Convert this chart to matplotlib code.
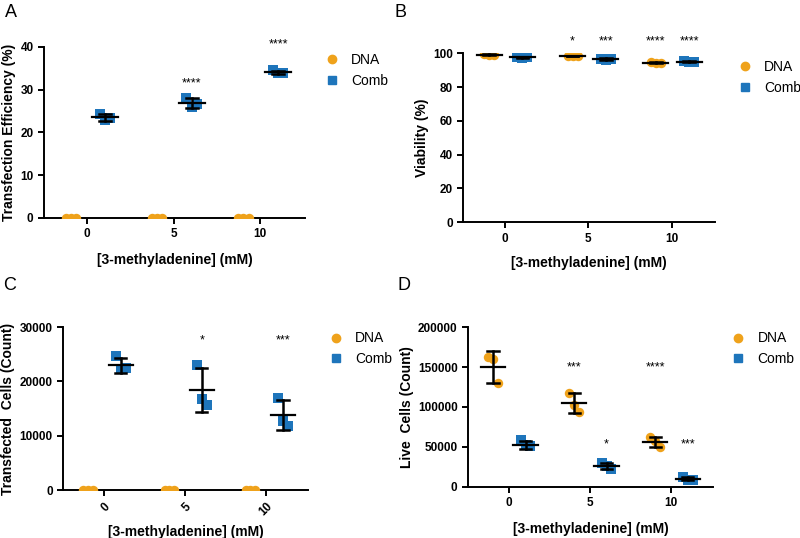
import numpy as np
import matplotlib
matplotlib.use("Agg")
import matplotlib.pyplot as plt
from matplotlib.lines import Line2D

plt.rcParams['font.family'] = ['Liberation Sans', 'DejaVu Sans']

concs = [0, 5, 10]
series = ["DNA", "Comb"]

# Panel A: Transfection efficiency (%)
A_dna = [[0, 0, 0], [0, 0, 0], [0, 0, 0]]
A_comb = [[24.2, 23.0, 23.4], [28.0, 26.0, 26.6], [34.5, 33.8, 33.9]]
A_dna_mean = [0, 0, 0]; A_dna_sd = [0, 0, 0]
A_comb_mean = [23.5, 26.8, 34.0]; A_comb_sd = [0.8, 1.2, 0.35]
A_stars = {"DNA": ["", "", ""], "Comb": ["", "****", "****"]}
A_star_y = [None, 31.5, 40.5]

# Panel B: Viability (%)
B_dna = [[99.3, 99.1, 99.2], [98.4, 98.2, 98.3], [94.8, 94.2, 94.4]]
B_comb = [[97.8, 97.3, 97.5], [96.8, 96.2, 96.5], [95.4, 94.6, 95.0]]
B_dna_mean = [99.2, 98.3, 94.5]; B_dna_sd = [0.1, 0.15, 0.3]
B_comb_mean = [97.5, 96.5, 95.0]; B_comb_sd = [0.3, 0.4, 0.4]
B_stars = {"DNA": ["", "*", "****"], "Comb": ["", "***", "****"]}
B_star_y = 107

# Panel C: Transfected cells (count)
C_dna = [[0, 0, 0], [0, 0, 0], [0, 0, 0]]
C_comb = [[24700, 22300, 22500], [23000, 16800, 15700], [17000, 12800, 11800]]
C_dna_mean = [0, 0, 0]; C_dna_sd = [0, 0, 0]
C_comb_mean = [23000, 18400, 13800]; C_comb_sd = [1400, 4000, 2750]
C_stars = {"DNA": ["", "", ""], "Comb": ["", "*", "***"]}
C_star_y = 27500

# Panel D: Live cells (count)
D_dna = [[162000, 160000, 130000], [118000, 102000, 94000], [62000, 57000, 50000]]
D_comb = [[59000, 52000, 51000], [30000, 26000, 22000], [12000, 9000, 8500]]
D_dna_mean = [150000, 105000, 56000]; D_dna_sd = [19500, 12500, 6500]
D_comb_mean = [53000, 26000, 10000]; D_comb_sd = [5000, 4000, 2000]
D_stars_dna = ["", "***", "****"]
D_stars_comb = ["", "*", "***"]

ORANGE = "#EFA21B"
BLUE = "#1E75BB"

fig = plt.figure(figsize=(8, 5.38), dpi=100)

def style_axis(ax, ylim, yticks, ylabel, legend_anchor, rotate=False, xlabelpad=8):
    ax.set_xlim(-2.5, 12.6)
    ax.set_ylim(*ylim)
    ax.set_yticks(yticks)
    ax.set_xticks(concs)
    if rotate:
        ax.set_xticklabels([str(c) for c in concs], fontweight='bold', fontsize=8.5,
                           rotation=45, ha='right', rotation_mode='anchor')
    else:
        ax.set_xticklabels([str(c) for c in concs], fontweight='bold', fontsize=8.5)
    for lab in ax.get_yticklabels():
        lab.set_fontweight('bold'); lab.set_fontsize(8.5)
    ax.spines['top'].set_visible(False)
    ax.spines['right'].set_visible(False)
    ax.spines['left'].set_linewidth(1.4)
    ax.spines['bottom'].set_linewidth(1.4)
    ax.spines['left'].set_bounds(ylim[0], yticks[-1])
    ax.tick_params(direction='out', length=4, width=1.4)
    ax.set_xlabel("[3-methyladenine] (mM)", fontweight='bold', fontsize=10, labelpad=xlabelpad)
    ax.set_ylabel(ylabel, fontweight='bold', fontsize=10, labelpad=3)
    ax.legend(handles=[Line2D([], [], marker='o', ls='', color=ORANGE, markersize=6),
                       Line2D([], [], marker='s', ls='', color=BLUE, markersize=5.5)],
              labels=series, loc='upper left', bbox_to_anchor=legend_anchor,
              bbox_transform=fig.transFigure, borderpad=0, borderaxespad=0,
              frameon=False, fontsize=10, handlelength=1.0, handletextpad=0.9,
              labelspacing=0.5)

def draw_group(ax, xs, vals, means, sds, color, marker):
    offs = [-0.3, 0.0, 0.3]
    for x, v, m, s in zip(xs, vals, means, sds):
        ax.scatter([x + o for o in offs], v, color=color, marker=marker, s=46,
                   zorder=3, linewidths=0)
        if m == 0 and s == 0:
            continue
        ax.plot([x - 0.75, x + 0.75], [m, m], color='black', lw=1.6, zorder=4)
        ax.plot([x, x], [m - s, m + s], color='black', lw=1.8, zorder=4)
        for yy in (m - s, m + s):
            ax.plot([x - 0.35, x + 0.35], [yy, yy], color='black', lw=1.8, zorder=4)

x_dna = [c - 0.95 for c in concs]
x_comb = [c + 1.05 for c in concs]

# A
axA = fig.add_axes([0.055, 0.595, 0.326, 0.318])
draw_group(axA, x_dna, A_dna, A_dna_mean, A_dna_sd, ORANGE, 'o')
draw_group(axA, x_comb, A_comb, A_comb_mean, A_comb_sd, BLUE, 's')
for x, s, y in zip(x_comb, A_stars["Comb"], A_star_y):
    if s:
        axA.text(x, y, s, ha='center', va='center', fontsize=9, clip_on=False)
style_axis(axA, (0, 40), [0, 10, 20, 30, 40], "Transfection Efficiency (%)",
           (0.406, 0.902), xlabelpad=9)

# B
axB = fig.add_axes([0.579, 0.587, 0.315, 0.314])
draw_group(axB, x_dna, B_dna, B_dna_mean, B_dna_sd, ORANGE, 'o')
draw_group(axB, x_comb, B_comb, B_comb_mean, B_comb_sd, BLUE, 's')
for x, s in zip(x_dna, B_stars["DNA"]):
    if s:
        axB.text(x, B_star_y, s, ha='center', va='center', fontsize=9, clip_on=False)
for x, s in zip(x_comb, B_stars["Comb"]):
    if s:
        axB.text(x, B_star_y, s, ha='center', va='center', fontsize=9, clip_on=False)
style_axis(axB, (0, 100), [0, 20, 40, 60, 80, 100], "Viability (%)",
           (0.922, 0.889), xlabelpad=8)

# C
axC = fig.add_axes([0.079, 0.089, 0.306, 0.303])
draw_group(axC, x_dna, C_dna, C_dna_mean, C_dna_sd, ORANGE, 'o')
draw_group(axC, x_comb, C_comb, C_comb_mean, C_comb_sd, BLUE, 's')
for x, s in zip(x_comb, C_stars["Comb"]):
    if s:
        axC.text(x, C_star_y, s, ha='center', va='center', fontsize=9)
style_axis(axC, (0, 30000), [0, 10000, 20000, 30000], "Transfected  Cells (Count)",
           (0.411, 0.384), rotate=True, xlabelpad=5)

# D
axD = fig.add_axes([0.585, 0.095, 0.306, 0.297])
draw_group(axD, x_dna, D_dna, D_dna_mean, D_dna_sd, ORANGE, 'o')
draw_group(axD, x_comb, D_comb, D_comb_mean, D_comb_sd, BLUE, 's')
for x, s in zip(x_dna, D_stars_dna):
    if s:
        axD.text(x, 150000, s, ha='center', va='center', fontsize=9)
for x, s in zip(x_comb, D_stars_comb):
    if s:
        axD.text(x, 53000, s, ha='center', va='center', fontsize=9)
style_axis(axD, (0, 200000), [0, 50000, 100000, 150000, 200000], "Live  Cells (Count)",
           (0.914, 0.384), xlabelpad=9)

for lab, (x, y) in zip("ABCD", [(0.006, 0.992), (0.493, 0.992), (0.004, 0.485), (0.497, 0.485)]):
    fig.text(x, y, lab, fontsize=13, ha='left', va='top')

fig.savefig("out.png", dpi=100)
